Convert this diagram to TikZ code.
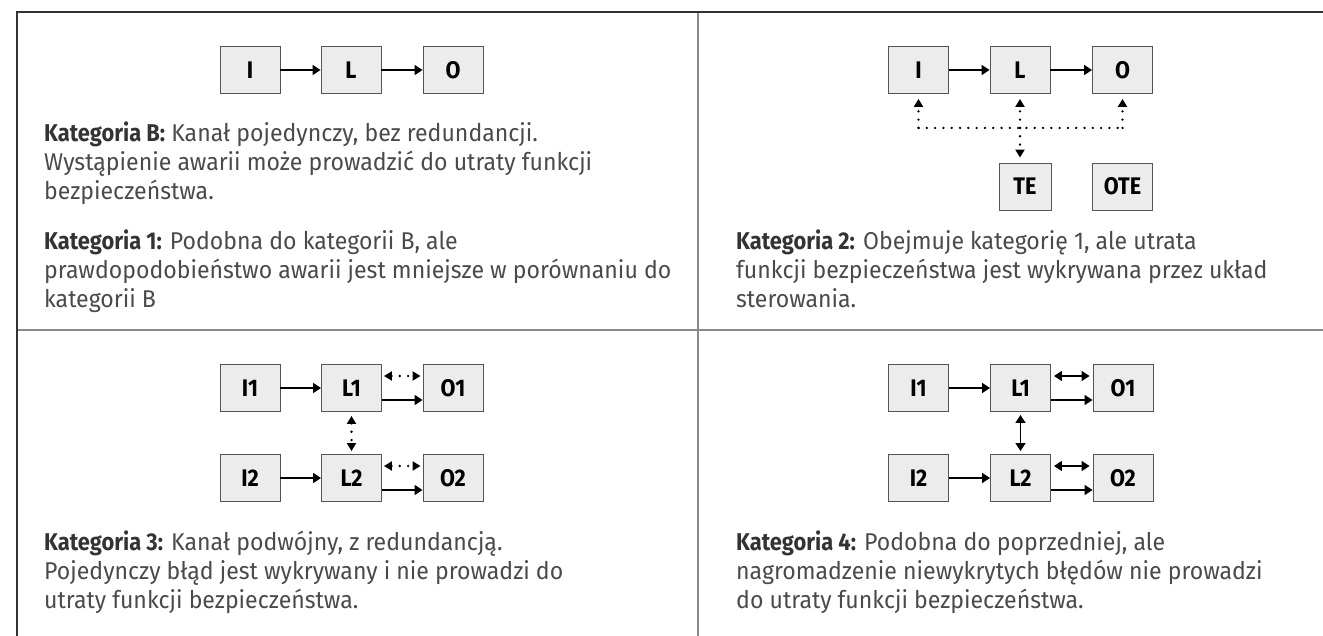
\documentclass[tikz,border=0pt]{standalone}
\usepackage{fontspec}
\setmainfont{Fira Sans}[FakeStretch=0.95, BoldFeatures={FakeStretch=0.9}]
\usetikzlibrary{arrows.meta}
\definecolor{framedark}{HTML}{333333}
\definecolor{divgray}{HTML}{8A8A8A}
\definecolor{boxfill}{HTML}{ECECEC}
\definecolor{boxedge}{HTML}{555555}
\definecolor{bodytext}{HTML}{4A4A4A}
\definecolor{headtext}{HTML}{333333}
\begin{document}
\begin{tikzpicture}[x=1pt,y=-1pt,
  blk/.style={draw=boxedge, fill=boxfill, line width=0.9pt, minimum width=60pt,
    minimum height=47pt, inner sep=0pt, text=black,
    font=\fontsize{24}{24}\selectfont\bfseries},
  flow/.style={line width=1.5pt, -{Triangle[length=8pt,width=10pt]}},
  both/.style={line width=1.5pt, {Triangle[length=8pt,width=10pt]}-{Triangle[length=8pt,width=10pt]}},
  dots/.style={line width=2.6pt, line cap=round, dash pattern=on 0pt off 8.3pt},
  dotflow/.style={dots, -{Triangle[length=8pt,width=9pt]}},
  dotboth/.style={dots, {Triangle[length=8pt,width=9pt]}-{Triangle[length=8pt,width=9pt]}},
  txt/.style={anchor=base west, inner sep=0pt, text=bodytext,
    font=\fontsize{24.3}{24.3}\selectfont},
  rule/.style={draw=framedark, line width=1.5pt},
  divider/.style={draw=divgray, line width=1.1pt}]
\useasboundingbox (0,0) rectangle (1323,636);

% panel frame and dividers
\coordinate (fTL) at (17,12);
\coordinate (fTR) at (1323,12);
\coordinate (fBL) at (17,636);
\coordinate (dTop) at (698,12);
\coordinate (dBot) at (698,636);
\coordinate (hL) at (17,330);
\coordinate (hR) at (1323,330);
\draw[divider] (dTop) -- (dBot);
\draw[divider] (hL) -- (hR);
\draw[rule] (fTR) -- (fTL) -- (fBL);

% category B / 1: single channel
\node[blk] (aI) at (250,70) {I};
\node[blk] (aL) at (351,70) {L};
\node[blk] (aO) at (453,70) {O};
\draw[flow] (aI) -- (aL);
\draw[flow] (aL) -- (aO);

\node[txt] (tB1) at (44,142) {{\bfseries\color{headtext}Kategoria B:} Kanał pojedynczy, bez redundancji.};
\node[txt] (tB2) at (44,171) {Wystąpienie awarii może prowadzić do utraty funkcji};
\node[txt] (tB3) at (44,200) {bezpieczeństwa.};
\node[txt] (tC1) at (44,250) {{\bfseries\color{headtext}Kategoria 1:} Podobna do kategorii B, ale};
\node[txt] (tC2) at (44,279) {prawdopodobieństwo awarii jest mniejsze w porównaniu do};
\node[txt] (tC3) at (44,308) {kategorii B};

% category 2: single channel with test equipment
\node[blk] (bI) at (918.5,70) {I};
\node[blk] (bL) at (1020,70) {L};
\node[blk] (bO) at (1122.5,70) {O};
\node[blk, minimum width=52pt] (bTE) at (1025,186.5) {TE};
\node[blk] (bOTE) at (1122.5,186.5) {OTE};
\draw[flow] (bI) -- (bL);
\draw[flow] (bL) -- (bO);
\path (bI.south) ++(0,34) coordinate (busI);
\path (bL.south) ++(0,34) coordinate (busL);
\path (bO.south) ++(0,34) coordinate (busO);
\draw[dots] (busI) -- (busO);
\draw[dotflow, shorten >=5pt] (busI) -- (bI.south);
\draw[dotflow, shorten >=5pt] (busL) -- (bL.south);
\draw[dotflow, shorten >=5pt] (busO) -- (bO.south);
\draw[dotflow, shorten >=5pt] (busL) -- (busL |- bTE.north);

\node[txt] (t21) at (736,250) {{\bfseries\color{headtext}Kategoria 2:} Obejmuje kategorię 1, ale utrata};
\node[txt] (t22) at (736,279) {funkcji bezpieczeństwa jest wykrywana przez układ};
\node[txt] (t23) at (736,308) {sterowania.};

% category 3: dual channel, dotted cross monitoring
\node[blk] (cI1) at (250,388) {I1};
\node[blk] (cL1) at (351.5,388) {L1};
\node[blk] (cO1) at (453,388) {O1};
\node[blk] (cI2) at (250,478) {I2};
\node[blk] (cL2) at (351.5,478) {L2};
\node[blk] (cO2) at (453,478) {O2};
\draw[flow] (cI1) -- (cL1);
\draw[flow] (cI2) -- (cL2);
\draw[flow] ([yshift=-12pt]cL1.east) -- ([yshift=-12pt]cO1.west);
\draw[flow] ([yshift=-12pt]cL2.east) -- ([yshift=-12pt]cO2.west);
\draw[dotboth, shorten <=2pt, shorten >=2pt] ([yshift=12pt]cL1.east) -- ([yshift=12pt]cO1.west);
\draw[dotboth, shorten <=2pt, shorten >=2pt] ([yshift=12pt]cL2.east) -- ([yshift=12pt]cO2.west);
\draw[dotboth, shorten <=4pt, shorten >=3pt] (cL1.south) -- (cL2.north);

\node[txt] (t31) at (44,550) {{\bfseries\color{headtext}Kategoria 3:} Kanał podwójny, z redundancją.};
\node[txt] (t32) at (44,579) {Pojedynczy błąd jest wykrywany i nie prowadzi do};
\node[txt] (t33) at (44,608) {utraty funkcji bezpieczeństwa.};

% category 4: dual channel, solid cross monitoring
\node[blk] (dI1) at (918.5,388) {I1};
\node[blk] (dL1) at (1020.5,388) {L1};
\node[blk] (dO1) at (1123,388) {O1};
\node[blk] (dI2) at (918.5,478) {I2};
\node[blk] (dL2) at (1020.5,478) {L2};
\node[blk] (dO2) at (1123,478) {O2};
\draw[flow] (dI1) -- (dL1);
\draw[flow] (dI2) -- (dL2);
\draw[flow] ([yshift=-12pt]dL1.east) -- ([yshift=-12pt]dO1.west);
\draw[flow] ([yshift=-12pt]dL2.east) -- ([yshift=-12pt]dO2.west);
\draw[both, shorten <=3pt, shorten >=3pt] ([yshift=12pt]dL1.east) -- ([yshift=12pt]dO1.west);
\draw[both, shorten <=3pt, shorten >=3pt] ([yshift=12pt]dL2.east) -- ([yshift=12pt]dO2.west);
\draw[both, shorten <=3pt, shorten >=3pt] (dL1.south) -- (dL2.north);

\node[txt] (t41) at (736,550) {{\bfseries\color{headtext}Kategoria 4:} Podobna do poprzedniej, ale};
\node[txt] (t42) at (736,579) {nagromadzenie niewykrytych błędów nie prowadzi};
\node[txt] (t43) at (736,608) {do utraty funkcji bezpieczeństwa.};
\end{tikzpicture}
\end{document}
